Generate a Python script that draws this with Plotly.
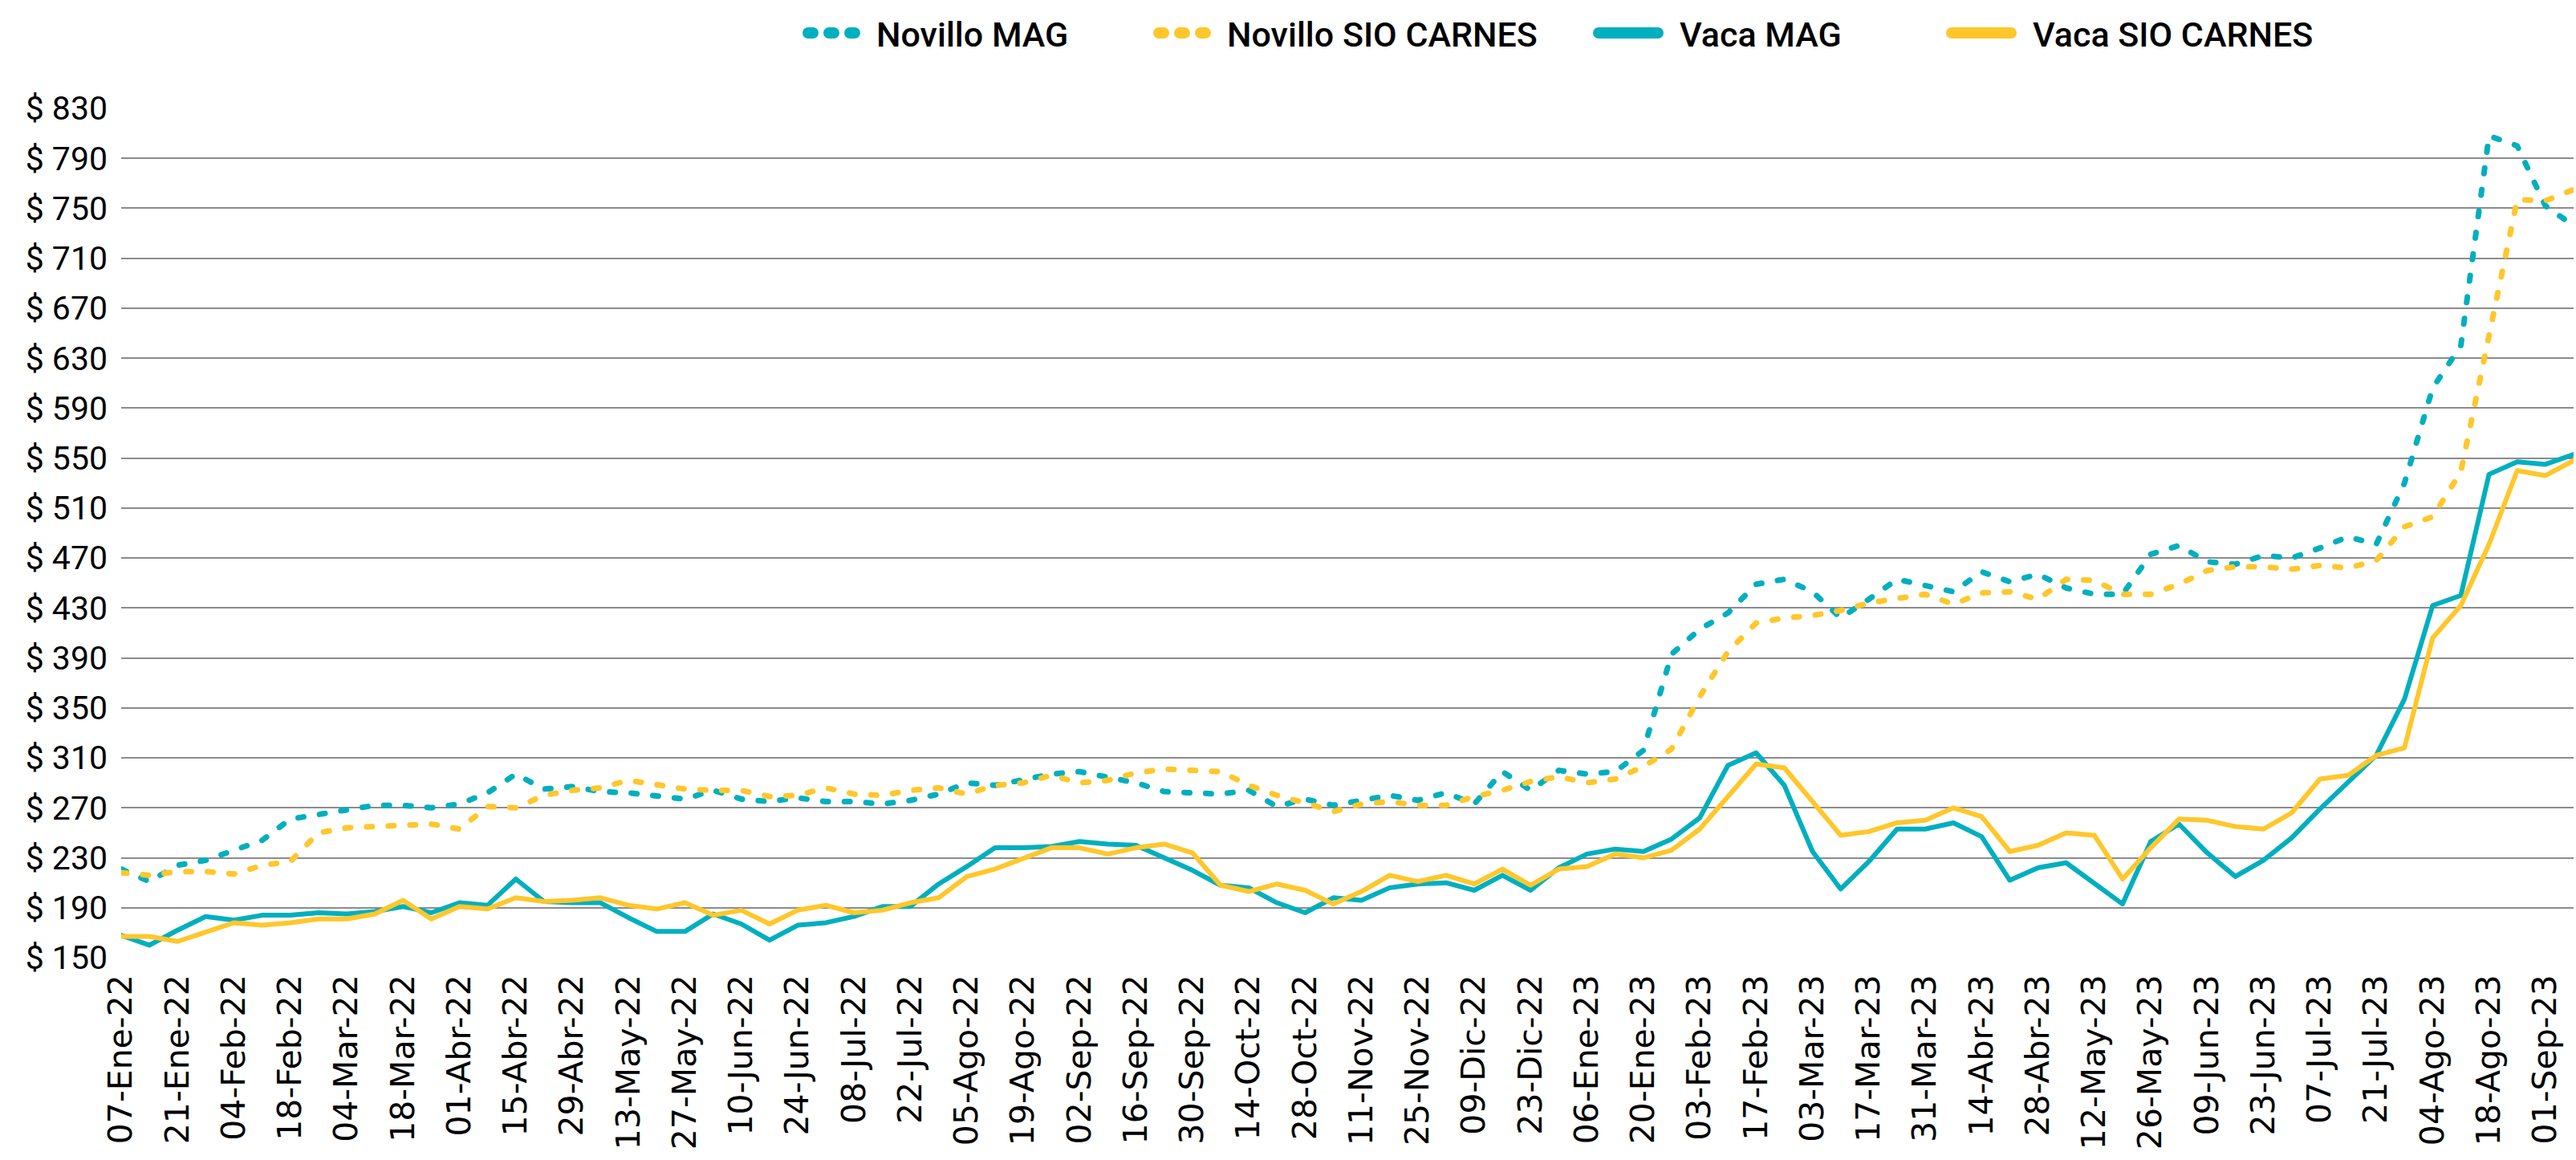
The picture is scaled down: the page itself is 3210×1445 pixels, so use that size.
import pandas as pd
import plotly.graph_objects as go

# ---------------- data ----------------
semanas = pd.date_range("2022-01-07", periods=88, freq="7D")

etiquetas_x = [
    "07-Ene-22", "21-Ene-22", "04-Feb-22", "18-Feb-22", "04-Mar-22", "18-Mar-22",
    "01-Abr-22", "15-Abr-22", "29-Abr-22", "13-May-22", "27-May-22", "10-Jun-22",
    "24-Jun-22", "08-Jul-22", "22-Jul-22", "05-Ago-22", "19-Ago-22", "02-Sep-22",
    "16-Sep-22", "30-Sep-22", "14-Oct-22", "28-Oct-22", "11-Nov-22", "25-Nov-22",
    "09-Dic-22", "23-Dic-22", "06-Ene-23", "20-Ene-23", "03-Feb-23", "17-Feb-23",
    "03-Mar-23", "17-Mar-23", "31-Mar-23", "14-Abr-23", "28-Abr-23", "12-May-23",
    "26-May-23", "09-Jun-23", "23-Jun-23", "07-Jul-23", "21-Jul-23", "04-Ago-23",
    "18-Ago-23", "01-Sep-23",
]

novillo_mag = [
    221, 211, 224, 228, 236, 244, 261, 265, 268, 272,
    272, 270, 273, 282, 297, 285, 287, 283, 282, 279,
    277, 284, 277, 275, 278, 275, 275, 273, 276, 281,
    290, 288, 293, 297, 299, 295, 290, 283, 282, 281,
    284, 271, 277, 272, 276, 280, 276, 282, 273, 299,
    284, 300, 297, 299, 316, 393, 413, 426, 449, 453,
    443, 422, 437, 453, 448, 443, 459, 451, 457, 446,
    441, 441, 473, 480, 467, 465, 472, 470, 478, 487,
    481, 530, 606, 640, 808, 800, 752, 736,
]

novillo_sio = [
    218, 216, 219, 219, 217, 224, 227, 250, 254, 255,
    255, 257, 253, 271, 270, 280, 284, 286, 292, 288,
    285, 284, 284, 279, 280, 286, 281, 280, 284, 286,
    281, 288, 290, 296, 290, 292, 298, 301, 300, 299,
    288, 280, 274, 267, 273, 275, 272, 272, 279, 284,
    291, 295, 290, 293, 303, 317, 359, 395, 418, 422,
    424, 428, 434, 437, 441, 433, 442, 443, 437, 453,
    452, 441, 441, 449, 460, 463, 463, 461, 464, 462,
    468, 495, 503, 539, 650, 757, 756, 765,
]

vaca_mag = [
    168, 160, 172, 183, 180, 184, 184, 186, 185, 187,
    191, 186, 194, 192, 213, 195, 194, 194, 182, 171,
    171, 185, 177, 164, 176, 178, 183, 191, 191, 209,
    223, 238, 238, 239, 243, 241, 240, 230, 220, 208,
    206, 194, 186, 198, 196, 206, 209, 210, 204, 216,
    204, 222, 233, 237, 235, 245, 262, 304, 314, 288,
    235, 205, 227, 253, 253, 258, 247, 212, 222, 226,
    210, 193, 243, 257, 234, 215, 228, 246, 269, 291,
    312, 357, 432, 440, 537, 547, 545, 553,
]

vaca_sio = [
    167, 167, 163, 170, 178, 176, 178, 181, 181, 185,
    196, 181, 191, 189, 198, 195, 196, 198, 192, 189,
    194, 184, 188, 177, 188, 192, 186, 188, 194, 198,
    215, 221, 230, 238, 238, 233, 238, 241, 234, 208,
    203, 209, 204, 193, 203, 216, 211, 216, 209, 221,
    208, 221, 223, 233, 230, 236, 253, 279, 305, 302,
    275, 248, 251, 258, 260, 270, 263, 235, 240, 250,
    248, 213, 238, 261, 260, 255, 253, 266, 293, 296,
    312, 318, 406, 432, 481, 540, 536, 548,
]

TEAL = "#00AFBE"
GOLD = "#FFC72C"
series = [
    ("Novillo MAG", novillo_mag, TEAL, "dash"),
    ("Novillo SIO CARNES", novillo_sio, GOLD, "dash"),
    ("Vaca MAG", vaca_mag, TEAL, "solid"),
    ("Vaca SIO CARNES", vaca_sio, GOLD, "solid"),
]

y_ticks = list(range(150, 831, 40))

# legend layout: pixel x where each entry's text starts, and symbol path length
legend_text_px = [1090, 1527, 2091, 2531]
legend_sym_len = [58, 58, 74, 74]
legend_ids = ["legend", "legend2", "legend3", "legend4"]

W, H = 3210, 1445
ML, MR, MT, MB = 151, 3, 135, 252
plot_w = W - ML - MR
plot_h = H - MT - MB

# ---------------- figure ----------------
fig = go.Figure()
for nombre, valores, color, estilo in series:
    fig.add_trace(go.Scatter(
        x=semanas, y=valores, name=nombre, mode="lines",
        line=dict(color=color, width=7 if estilo == "dash" else 6,
                  dash="7px,20px" if estilo == "dash" else "solid"),
        showlegend=False, hoverinfo="skip",
    ))

# legend entries (drawn with thick symbols like the original legend)
for (nombre, valores, color, estilo), lid in zip(series, legend_ids):
    fig.add_trace(go.Scatter(
        x=[None], y=[None], name=nombre, mode="lines",
        line=dict(color=color, width=14,
                  dash="6px,20px" if estilo == "dash" else "solid"),
        legend=lid, showlegend=True, hoverinfo="skip",
    ))

legends = {}
for lid, tx, L in zip(legend_ids, legend_text_px, legend_sym_len):
    origin = tx - (L + 10)
    legends[lid] = dict(
        orientation="h", yanchor="middle", y=1 + (MT - 41) / plot_h,
        xanchor="left", x=(origin + 2 - ML) / plot_w,
        font=dict(family="Roboto", size=43, weight=500, color="#000000"),
        itemwidth=L, bgcolor="rgba(0,0,0,0)", borderwidth=0,
    )

fig.update_layout(
    width=W, height=H,
    margin=dict(l=ML, r=MR, t=MT, b=MB),
    paper_bgcolor="white", plot_bgcolor="white",
    font=dict(family="Roboto", color="#000000"),
    showlegend=True,
    **legends,
)

fig.update_xaxes(
    range=[semanas[0], semanas[-1]],
    tickmode="array", tickvals=list(semanas[::2]), ticktext=etiquetas_x,
    tickangle=-90, showgrid=False, zeroline=False, showline=False,
    ticks="", ticklabelstandoff=12,
    tickfont=dict(family="DejaVu Sans", size=41, color="#000000"),
)

fig.update_yaxes(
    range=[150, 830], tickmode="array", tickvals=y_ticks,
    ticktext=[f"$ {v}" for v in y_ticks],
    showgrid=True, gridcolor="#8C8C8C", gridwidth=2,
    zeroline=False, showline=False, ticks="", ticklabelstandoff=16,
    tickfont=dict(family="Roboto", size=41, color="#000000"),
)

post = """
document.body.style.margin='0';
document.body.style.overflow='hidden';
var st=document.createElement('style');
st.innerHTML='path.js-line{stroke-linecap:round !important;stroke-linejoin:round !important;}'
 + '.infolayer path.js-line{stroke-width:14px !important;transform:translateX(-22px);}'
 + '.infolayer .scrollbox{clip-path:none !important;}';
document.head.appendChild(st);
"""

fig.write_html("out.html", post_script=post, config={"displayModeBar": False})
